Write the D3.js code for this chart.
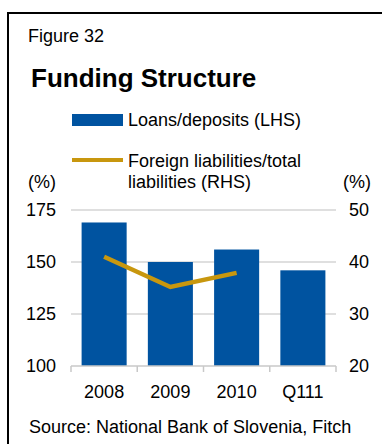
<!DOCTYPE html>
<html>
<head>
<meta charset="utf-8">
<script src="https://cdn.jsdelivr.net/npm/d3@7"></script>
<style>
  html, body { margin: 0; padding: 0; background: #fff; }
  svg { display: block; font-family: "Liberation Sans", Arial, sans-serif; }
</style>
</head>
<body>
<svg id="chart" width="382" height="444"></svg>
<script>
// Data
const categories = ["2008", "2009", "2010", "Q111"];
const loansDeposits = [169, 150, 156, 146];          // LHS, %
const foreignLiabilities = [41, 35.2, 37.9, null];   // RHS, %
const leftTicks = [100, 125, 150, 175];
const rightTicks = [20, 30, 40, 50];

const svg = d3.select("#chart");
const BLUE = "#0053A0";
const GOLD = "#C8970E";
const GRID = "#d4d4d4";

// Frame (open at right and bottom)
svg.append("path")
  .attr("d", "M8,446 L8,13 L384,13")
  .attr("fill", "none")
  .attr("stroke", "#000")
  .attr("stroke-width", 2);

// Headings
svg.append("text").attr("x", 28).attr("y", 42)
  .attr("font-size", 18).text("Figure 32");
svg.append("text").attr("x", 31).attr("y", 87)
  .attr("font-size", 26).attr("font-weight", "bold").text("Funding Structure");

// Legend
svg.append("rect").attr("x", 72).attr("y", 114).attr("width", 51).attr("height", 12).attr("fill", BLUE);
svg.append("text").attr("x", 128).attr("y", 126).attr("font-size", 18).text("Loans/deposits (LHS)");
svg.append("line").attr("x1", 72).attr("x2", 123).attr("y1", 160).attr("y2", 160)
  .attr("stroke", GOLD).attr("stroke-width", 4);
svg.append("text").attr("x", 128).attr("y", 167).attr("font-size", 18).text("Foreign liabilities/total");
svg.append("text").attr("x", 128).attr("y", 188).attr("font-size", 18).text("liabilities (RHS)");

// Axis unit labels
svg.append("text").attr("x", 28).attr("y", 188).attr("font-size", 18).text("(%)");
svg.append("text").attr("x", 343).attr("y", 188).attr("font-size", 18).text("(%)");

// Scales
const x0 = 71, x1 = 336, yTop = 210, yBot = 366;
const x = d3.scaleBand().domain(categories).range([x0, x1])
  .paddingInner(0.32).paddingOuter(0.16);
const yL = d3.scaleLinear().domain([100, 175]).range([yBot, yTop]);
const yR = d3.scaleLinear().domain([20, 50]).range([yBot, yTop]);

// Gridlines
svg.append("g").selectAll("line").data(leftTicks.slice(1)).join("line")
  .attr("x1", x0).attr("x2", x1)
  .attr("y1", d => yL(d)).attr("y2", d => yL(d))
  .attr("stroke", GRID).attr("stroke-width", 1.5);

// Left axis
const gL = svg.append("g").attr("transform", `translate(${x0},0)`)
  .call(d3.axisLeft(yL).tickValues(leftTicks).tickSize(0).tickPadding(15));
gL.select(".domain").remove();
gL.selectAll("text").attr("font-size", 18).attr("font-family", "Liberation Sans, Arial, sans-serif").attr("fill", "#000");

// Right axis
const gR = svg.append("g").attr("transform", `translate(${x1},0)`)
  .call(d3.axisRight(yR).tickValues(rightTicks).tickSize(0).tickPadding(13));
gR.select(".domain").remove();
gR.selectAll("text").attr("font-size", 18).attr("font-family", "Liberation Sans, Arial, sans-serif").attr("fill", "#000");

// Bars
svg.append("g").selectAll("rect").data(categories).join("rect")
  .attr("x", d => x(d))
  .attr("width", x.bandwidth())
  .attr("y", (d, i) => yL(loansDeposits[i]))
  .attr("height", (d, i) => yBot - yL(loansDeposits[i]))
  .attr("fill", BLUE);

// Category axis: boundary ticks, labels centred in each band
const gX = svg.append("g").attr("transform", `translate(0,${yBot})`);
gX.append("line").attr("x1", x0).attr("x2", x1).attr("y1", 0).attr("y2", 0)
  .attr("stroke", "#c8c8c8").attr("stroke-width", 1.5);
const bounds = categories.map(c => x(c) - x.step() * x.paddingInner() / 2).concat([x1]);
gX.selectAll("line.tk").data(bounds).join("line").attr("class", "tk")
  .attr("x1", d => d).attr("x2", d => d).attr("y1", 0).attr("y2", 6)
  .attr("stroke", "#c8c8c8").attr("stroke-width", 1.5);
gX.selectAll("text").data(categories).join("text")
  .attr("x", d => x(d) + x.bandwidth() / 2).attr("y", 32)
  .attr("text-anchor", "middle").attr("font-size", 18).text(d => d);

// Line (RHS)
const line = d3.line()
  .defined(d => d[1] != null)
  .x(d => x(d[0]) + x.bandwidth() / 2)
  .y(d => yR(d[1]));
svg.append("path")
  .datum(categories.map((c, i) => [c, foreignLiabilities[i]]))
  .attr("d", line)
  .attr("fill", "none")
  .attr("stroke", GOLD)
  .attr("stroke-width", 4.5);

// Source
svg.append("text").attr("x", 29).attr("y", 433).attr("font-size", 18)
  .text("Source: National Bank of Slovenia, Fitch");
</script>
</body>
</html>
